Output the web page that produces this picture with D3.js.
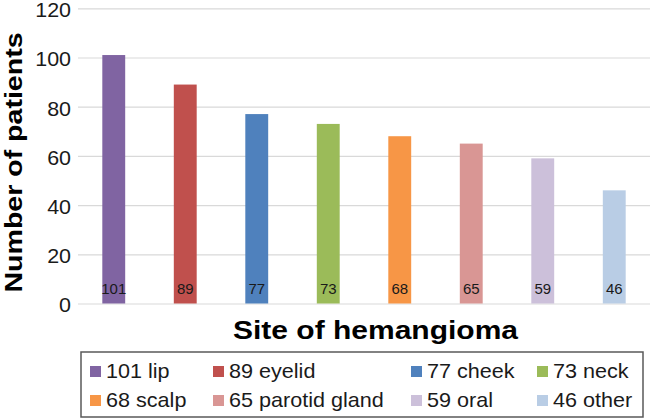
<!DOCTYPE html>
<html>
<head>
<meta charset="utf-8">
<script src="https://cdn.jsdelivr.net/npm/d3@7"></script>
<style>
  html, body { margin: 0; padding: 0; background: #fff; }
  svg { display: block; font-family: "Liberation Sans", Arial, sans-serif; }
</style>
</head>
<body>
<svg id="chart" width="650" height="419"></svg>
<script>
// ---- data ----
const categories = ["lip", "eyelid", "cheek", "neck", "scalp", "parotid gland", "oral", "other"];
const patients = [101, 89, 77, 73, 68, 65, 59, 46];
const yTickValues = [0, 20, 40, 60, 80, 100, 120];
const xTitle = "Site of hemangioma";
const yTitle = "Number of patients";

// ---- styles ----
const palette = ["#8064A2", "#C0504D", "#4F81BD", "#9BBB59", "#F79646", "#D99694", "#CCC0DA", "#B9CDE5"];

const svg = d3.select("#chart");
const plot = { left: 78, right: 650, top: 8.3, bottom: 303.5 };

const x = d3.scaleBand()
  .domain(categories)
  .range([plot.left, plot.right])
  .paddingInner(0.68)
  .paddingOuter(0.34);

const y = d3.scaleLinear()
  .domain([0, 120])
  .range([plot.bottom, plot.top]);

// gridlines + tick labels
const yAxis = svg.append("g")
  .attr("transform", `translate(${plot.left},0)`)
  .call(d3.axisLeft(y).tickValues(yTickValues).tickSize(-(plot.right - plot.left)).tickSizeOuter(0).tickPadding(0));
yAxis.select(".domain").remove();
yAxis.selectAll(".tick line").attr("stroke", "#D9D9D9").attr("stroke-width", 1.2);
yAxis.selectAll(".tick text")
  .attr("font-size", "19.5px")
  .attr("fill", "#1a1a1a")
  .attr("font-family", "'Liberation Sans', Arial, sans-serif")
  .attr("x", -7 / 1.1)
  .attr("dy", "0.43em")
  .attr("transform", "scale(1.1,1)");

// bars
const data = categories.map((c, i) => ({ cat: c, val: patients[i], color: palette[i] }));
svg.append("g").selectAll("rect")
  .data(data)
  .join("rect")
  .attr("x", d => x(d.cat))
  .attr("width", x.bandwidth())
  .attr("y", d => y(d.val))
  .attr("height", d => y(0) - y(d.val))
  .attr("fill", d => d.color);

// bar value labels near the base
svg.append("g").selectAll("text")
  .data(data)
  .join("text")
  .attr("x", d => x(d.cat) + x.bandwidth() / 2)
  .attr("y", y(0) - 9.5)
  .attr("text-anchor", "middle")
  .attr("font-size", "15px")
  .attr("fill", "#1a1a1a")
  .text(d => d.val);

// axis titles
svg.append("g")
  .attr("transform", "translate(375.5,339) scale(1.2,1)")
  .append("text")
  .attr("text-anchor", "middle")
  .attr("font-size", "25px")
  .attr("font-weight", "bold")
  .attr("fill", "#000")
  .text(xTitle);

svg.append("g")
  .attr("transform", "translate(21.5,162.5) rotate(-90) scale(1.19,1)")
  .append("text")
  .attr("text-anchor", "middle")
  .attr("font-size", "24px")
  .attr("font-weight", "bold")
  .attr("fill", "#000")
  .text(yTitle);

// legend
svg.append("rect")
  .attr("x", 81).attr("y", 352)
  .attr("width", 562).attr("height", 65)
  .attr("fill", "none")
  .attr("stroke", "#595959")
  .attr("stroke-width", 1.5);

const colX = [90, 213, 411, 537];
const rowY = [366, 395];
const legend = svg.append("g").selectAll("g")
  .data(data)
  .join("g")
  .attr("transform", (d, i) => `translate(${colX[i % 4]},${rowY[Math.floor(i / 4)]})`);
legend.append("rect")
  .attr("width", 11).attr("height", 11)
  .attr("fill", d => d.color);
legend.append("g")
  .attr("transform", "translate(16,11.5) scale(1.08,1)")
  .append("text")
  .attr("font-size", "20px")
  .attr("fill", "#1a1a1a")
  .text(d => `${d.val} ${d.cat}`);
</script>
</body>
</html>
